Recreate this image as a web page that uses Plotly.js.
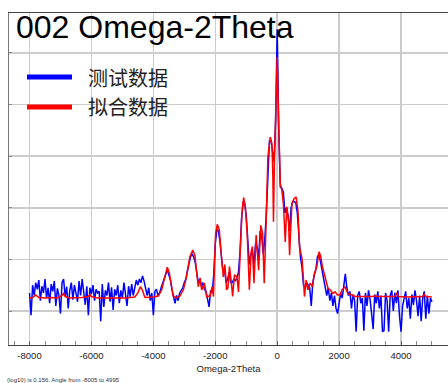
<!DOCTYPE html>
<html>
<head>
<meta charset="utf-8">
<script src="https://cdn.plot.ly/plotly-3.0.1.min.js"></script>
<style>html,body{margin:0;padding:0;background:#fff;}#chart{width:448px;height:383px;}</style>
</head>
<body>
<div id="chart"></div>
<script>
// ---- data (log10 intensity vs Omega-2Theta, arcsec) ----
const seriesNames = ['测试数据', '拟合数据'];
const chartTitle = '002 Omega-2Theta';
const xTitle = 'Omega-2Theta';
const footNote = '(log10) is 0.156. Angle from -8005 to 4995';
const xTickVals = [-8000, -6000, -4000, -2000, 0, 2000, 4000];
const xTickText = ['-8000', '-6000', '-4000', '-2000', '0', '2000', '4000'];

// measured data: sampled every 50 from -8000
const measuredStart = -8000;
const measuredStep = 50;
const measuredY = [
  1.35,0.92,1.50,1.30,1.55,1.42,1.60,1.20,1.48,1.35,
  1.62,1.25,1.45,1.15,1.52,1.38,1.58,1.10,1.44,1.30,
  0.95,1.55,1.62,1.28,1.47,1.05,1.40,1.55,1.22,1.50,
  1.35,1.18,1.58,1.30,1.62,1.40,1.12,1.48,0.92,1.45,
  1.33,1.50,1.20,1.42,1.35,1.38,0.80,1.52,1.08,1.40,
  1.30,1.55,1.18,1.46,1.02,1.42,1.30,1.50,1.15,1.40,
  1.25,1.55,1.35,1.10,1.48,1.28,1.52,1.30,1.45,1.60,
  1.50,1.62,1.55,1.68,1.58,1.42,1.30,1.45,1.20,1.35,
  0.92,1.38,1.42,1.30,1.35,1.45,1.55,1.65,1.72,1.80,
  1.70,1.60,1.42,1.30,1.15,1.30,1.20,1.35,1.40,1.45,
  1.55,1.62,1.78,1.95,2.05,2.10,2.05,1.95,1.70,1.55,
  1.62,1.48,1.55,1.42,1.38,1.20,1.08,1.40,1.35,1.70,
  2.30,2.58,2.55,2.35,2.05,1.75,1.80,1.55,1.62,1.75,
  1.55,1.55,1.62,1.58,1.65,1.75,2.15,2.80,3.10,3.08,
  2.85,2.40,1.90,2.10,2.15,1.90,2.30,2.25,2.00,2.55,
  2.45,2.10,2.40,2.90,3.80,4.30,4.30,4.05,3.89,4.70,
  6.46,4.50,3.40,3.38,3.30,2.90,3.00,2.85,2.55,3.00,
  3.12,3.12,3.10,2.90,2.40,2.05,1.85,1.50,1.45,1.55,
  1.50,1.45,1.10,1.55,1.70,1.80,2.05,2.10,1.95,1.80,
  1.60,1.50,1.30,1.45,1.20,1.35,1.10,1.30,1.05,0.95,
  1.20,1.35,1.25,1.50,1.72,1.45,1.30,1.38,1.05,1.32,
  1.20,0.60,1.30,1.38,1.15,1.25,0.62,1.35,1.10,1.40,
  1.22,0.95,0.65,1.32,1.15,1.38,1.05,1.30,0.60,0.62,
  1.35,1.20,0.60,1.30,1.40,1.00,1.35,1.15,1.40,0.90,
  0.60,1.10,1.28,1.38,1.05,1.25,0.85,1.32,1.12,1.40,
  1.20,0.90,1.30,0.80,1.25,1.38,0.85,1.30,0.95,1.25,
  1.18
];
const measuredX = measuredY.map((_, i) => measuredStart + i * measuredStep);

// fitted curve
const fitX = [
  -8000,-7900,-7800,-7700,-7500,-7300,-7100,-6950,-6900,-6850,-6700,-6500,-6300,-6100,-6050,-6000,
  -5800,-5500,-5200,-4900,-4600,-4500,-4420,-4350,-4280,-4200,-4000,-3900,
  -3840,-3730,-3620,-3550,-3480,-3410,-3360,-3250,-3140,-3030,-2930,-2820,-2730,-2660,-2600,-2550,
  -2490,-2440,-2350,-2280,-2170,-2100,-2060,-2030,-1990,-1935,-1870,-1800,-1740,-1690,-1635,-1590,
  -1540,-1480,-1440,-1380,-1300,-1250,-1190,-1140,-1085,-1030,-970,-900,-840,-800,-750,-680,-600,
  -530,-470,-420,-365,-300,-225,-170,-140,-120,-90,-40,0,40,80,100,150,200,260,310,365,400,475,
  550,610,670,720,800,850,880,935,990,1065,1140,1200,1280,1355,1410,1460,1520,1580,1640,1710,1800,
  1870,1945,2030,2090,2190,2280,2410,2520,2700,2900,3100,3160,3220,3500,3800,3860,3920,4200,4500,
  4700,4750,4800,4995
];
const fitY = [
  1.25,1.26,1.31,1.26,1.25,1.26,1.25,1.30,1.34,1.28,1.25,1.25,1.26,1.28,1.32,1.28,
  1.25,1.25,1.25,1.25,1.27,1.35,1.47,1.40,1.27,1.26,1.27,1.28,
  1.29,1.41,1.65,1.85,1.73,1.47,1.29,1.26,1.29,1.41,1.66,2.05,2.18,2.08,1.79,1.47,
  1.64,1.41,1.54,1.28,1.29,1.47,1.28,2.05,2.50,2.68,2.57,2.05,1.66,1.90,1.41,1.45,
  1.86,1.55,1.28,1.70,1.66,1.37,2.12,2.89,3.20,3.02,2.50,1.41,2.15,2.25,1.54,2.47,1.79,
  2.66,2.50,1.54,2.57,3.99,4.37,4.24,3.60,2.73,3.90,5.00,5.92,4.80,3.70,3.47,3.34,3.08,2.34,3.02,2.76,2.08,3.08,
  3.18,3.21,2.95,2.24,2.02,1.60,1.28,1.60,1.41,1.54,1.47,1.73,1.86,2.15,2.05,1.86,1.70,1.54,1.44,1.41,1.34,
  1.37,1.31,1.31,1.41,1.47,1.34,1.31,1.28,1.28,1.28,1.28,1.30,1.28,1.28,1.28,1.34,1.28,1.27,1.27,
  1.28,1.32,1.28,1.27
];

const lineColors = ['#0000ff', '#ff0000'];

const traces = [
  {x: measuredX, y: measuredY, type: 'scatter', mode: 'lines', name: seriesNames[0],
   line: {color: lineColors[0], width: 1.5}, showlegend: false},
  {x: fitX, y: fitY, type: 'scatter', mode: 'lines', name: seriesNames[1],
   line: {color: lineColors[1], width: 1.5}, showlegend: false}
];

const legY = [0.807, 0.717];
const layout = {
  width: 448, height: 383,
  margin: {l: 9, r: 0, t: 13, b: 38, pad: 0},
  paper_bgcolor: '#ffffff', plot_bgcolor: '#ffffff',
  showlegend: false,
  font: {family: 'Liberation Sans, Arial, sans-serif', color: '#222'},
  xaxis: {
    range: [-8663, 5517],
    tickmode: 'array', tickvals: xTickVals, ticktext: xTickText,
    ticks: 'inside', ticklen: 4, tickcolor: '#666', tickwidth: 1,
    minor: {dtick: 500, tick0: 0, ticks: 'inside', ticklen: 4, tickcolor: '#888', showgrid: false},
    showgrid: true, gridcolor: '#cccccc', gridwidth: 1.5,
    showline: true, linecolor: '#444', linewidth: 1, mirror: true,
    zeroline: false,
    ticklabelstandoff: 2,
    tickfont: {size: 9.5, color: '#222'},
    title: {text: xTitle, font: {size: 9.5, color: '#222'}, standoff: 4}
  },
  yaxis: {
    range: [0.341, 6.775], dtick: 1, tick0: 0,
    showticklabels: false,
    ticks: 'inside', ticklen: 3, tickcolor: '#888',
    showgrid: true, gridcolor: '#cccccc', gridwidth: 1.5,
    showline: true, linecolor: '#777', linewidth: 1,
    zeroline: false
  },
  shapes: [
    {type: 'line', xref: 'paper', yref: 'paper', x0: 0.041, x1: 0.1435, y0: legY[0], y1: legY[0],
     line: {color: lineColors[0], width: 5}},
    {type: 'line', xref: 'paper', yref: 'paper', x0: 0.041, x1: 0.1435, y0: legY[1], y1: legY[1],
     line: {color: lineColors[1], width: 5}}
  ],
  annotations: [
    {text: chartTitle, xref: 'paper', yref: 'paper', x: 0.012, y: 0.957, xanchor: 'left', yanchor: 'middle',
     showarrow: false, font: {size: 32, color: '#000', family: 'Liberation Sans, Arial, sans-serif'}},
    {text: seriesNames[0], xref: 'paper', yref: 'paper', x: 0.176, y: legY[0], xanchor: 'left', yanchor: 'middle',
     showarrow: false, font: {size: 20, color: '#222', family: 'Noto Sans CJK SC'}},
    {text: seriesNames[1], xref: 'paper', yref: 'paper', x: 0.176, y: legY[1], xanchor: 'left', yanchor: 'middle',
     showarrow: false, font: {size: 20, color: '#222', family: 'Noto Sans CJK SC'}},
    {text: footNote, xref: 'paper', yref: 'paper', x: -0.008, y: -0.105, xanchor: 'left', yanchor: 'middle',
     showarrow: false, font: {size: 6, color: '#333'}}
  ]
};

Plotly.newPlot('chart', traces, layout, {staticPlot: true, displayModeBar: false});
</script>
</body>
</html>
